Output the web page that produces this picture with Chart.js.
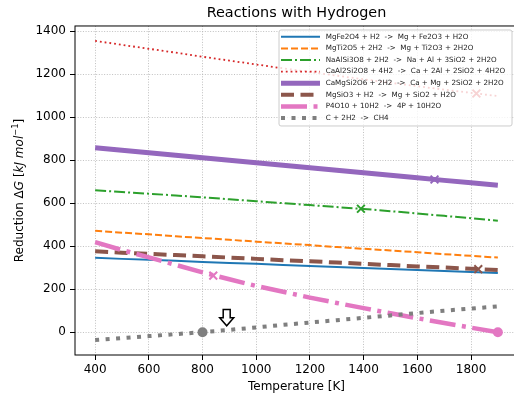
<!DOCTYPE html>
<html>
<head>
<meta charset="utf-8">
<title>Reactions with Hydrogen</title>
<script src="https://cdn.jsdelivr.net/npm/chart.js@4"></script>
<style>
    html, body { margin: 0; padding: 0; background: #fff; overflow: hidden; }
    #wrap { position: relative; width: 530px; height: 400px; }
</style>
</head>
<body>
<div id="wrap"><canvas id="chart"></canvas></div>
<script>
// Temperatures the curves are sampled at [K]
const temps = [400, 500, 600, 700, 800, 900, 1000, 1100, 1200, 1300, 1400, 1500, 1600, 1700, 1800, 1900];

const labels = [
    'MgFe2O4 + H2  ->  Mg + Fe2O3 + H2O',
    'MgTi2O5 + 2H2  ->  Mg + Ti2O3 + 2H2O',
    'NaAlSi3O8 + 2H2  ->  Na + Al + 3SiO2 + 2H2O',
    'CaAl2Si2O8 + 4H2  ->  Ca + 2Al + 2SiO2 + 4H2O',
    'CaMgSi2O6 + 2H2  ->  Ca + Mg + 2SiO2 + 2H2O',
    'MgSiO3 + H2  ->  Mg + SiO2 + H2O',
    'P4O10 + 10H2  ->  4P + 10H2O',
    'C + 2H2  ->  CH4'
];

// Reduction dG [kJ/mol], one value per temperature
const mgFe2O4   = [346, 341, 337, 332, 327, 322, 318, 313, 308, 303, 299, 294, 289, 285, 280, 275];
const mgTi2O5   = [472, 463, 455, 446, 438, 430, 421, 413, 405, 396, 388, 380, 372, 363, 355, 347];
const naAlSi3O8 = [660, 652, 644, 636, 627, 618, 609, 600, 591, 582, 573, 563, 552, 541, 530, 518];
const caAl2Si2O8 = [1355, 1336, 1318, 1300, 1281, 1263, 1245, 1227, 1210, 1193, 1176, 1160, 1144, 1128, 1113, 1098];
const caMgSi2O6 = [858, 846, 835, 823, 811, 800, 788, 776, 765, 753, 741, 730, 718, 706, 695, 683];
const mgSiO3    = [376, 370, 364, 359, 353, 347, 341, 335, 330, 324, 318, 312, 306, 301, 295, 289];
const p4O10     = [419, 382, 348, 313, 278, 246, 215, 188, 161, 136, 112, 88, 65, 43, 21, 0];
const cH4       = [-36, -27, -18, -9, 0, 11, 22, 34, 45, 56, 67, 78, 89, 100, 110, 120];
const series = [mgFe2O4, mgTi2O5, naAlSi3O8, caAl2Si2O8, caMgSi2O6, mgSiO3, p4O10, cH4];

// Marked points: crosses and circles, with the series each belongs to
const crossTemps  = [1820, 1664, 1390, 840, 1827];
const crossValues = [1110, 710, 574, 263, 293];
const crossSeries = [3, 4, 2, 6, 5];
const circleTemps  = [800, 1900];
const circleValues = [0, 0];
const circleSeries = [7, 6];

// Hollow arrow pointing down at the zero line
const arrowTemp = 890;
const arrowFrom = 106;
const arrowTo = 30;

const xTicks = [400, 600, 800, 1000, 1200, 1400, 1600, 1800];
const yTicks = [0, 200, 400, 600, 800, 1000, 1200, 1400];

// Line styles per series
const styles = [
    { color: '#1f77b4', width: 2,   dash: [] },
    { color: '#ff7f0e', width: 2,   dash: [7, 3] },
    { color: '#2ca02c', width: 2,   dash: [11, 3, 2, 3] },
    { color: '#d62728', width: 1.8, dash: [1.8, 3] },
    { color: '#9467bd', width: 5,   dash: [] },
    { color: '#8c564b', width: 4,   dash: [13, 6.5] },
    { color: '#e377c2', width: 4.5, dash: [26, 6.5, 4, 6.5] },
    { color: '#7f7f7f', width: 4,   dash: [4, 6.5] }
];

const FONT = '"DejaVu Sans", sans-serif';
Chart.defaults.font.family = FONT;
Chart.defaults.color = '#000';

// Datasets
const datasets = [];
series.forEach((vals, i) => {
    datasets.push({
        type: 'line',
        label: labels[i],
        data: temps.map((t, j) => ({ x: t, y: vals[j] })),
        borderColor: styles[i].color,
        borderWidth: styles[i].width,
        borderDash: styles[i].dash,
        borderCapStyle: 'butt',
        pointRadius: 0,
        fill: false,
        tension: 0,
        order: 20 - i
    });
});
crossTemps.forEach((t, i) => {
    const c = styles[crossSeries[i]].color;
    datasets.push({
        type: 'line',
        showLine: false,
        data: [{ x: t, y: crossValues[i] }],
        pointStyle: 'crossRot',
        pointRadius: 5.5,
        pointBorderWidth: 2,
        pointBorderColor: c,
        pointBackgroundColor: c,
        order: 2
    });
});
circleTemps.forEach((t, i) => {
    const c = styles[circleSeries[i]].color;
    datasets.push({
        type: 'line',
        showLine: false,
        data: [{ x: t, y: circleValues[i] }],
        pointStyle: 'circle',
        pointRadius: 5,
        pointBorderWidth: 0,
        pointBackgroundColor: c,
        order: 1
    });
});

// Frame, arrow, legend box and y-axis label
const extras = {
    id: 'extras',
    afterDatasetsDraw(chart) {
        const { ctx, chartArea: a, scales } = chart;
        ctx.save();

        // Arrow
        const ax = scales.x.getPixelForValue(arrowTemp);
        const y0 = scales.y.getPixelForValue(arrowFrom);
        const y1 = scales.y.getPixelForValue(arrowTo);
        const hy = y1 - 8;
        ctx.beginPath();
        ctx.moveTo(ax - 3.5, y0);
        ctx.lineTo(ax + 3.5, y0);
        ctx.lineTo(ax + 3.5, hy);
        ctx.lineTo(ax + 7, hy);
        ctx.lineTo(ax, y1);
        ctx.lineTo(ax - 7, hy);
        ctx.lineTo(ax - 3.5, hy);
        ctx.closePath();
        ctx.fillStyle = '#fff';
        ctx.fill();
        ctx.lineWidth = 1.5;
        ctx.strokeStyle = '#000';
        ctx.stroke();

        // Frame
        ctx.lineWidth = 1;
        ctx.strokeStyle = '#000';
        ctx.strokeRect(a.left, a.top, a.right - a.left, a.bottom - a.top);

        // Legend
        const w = 233, h = 96;
        const right = a.right - 6, top = a.top + 4;
        const left = right - w;
        ctx.beginPath();
        ctx.roundRect(left, top, w, h, 2);
        ctx.fillStyle = 'rgba(255,255,255,0.8)';
        ctx.fill();
        ctx.strokeStyle = '#cccccc';
        ctx.lineWidth = 1;
        ctx.stroke();
        ctx.font = '7.2px ' + FONT;
        ctx.textBaseline = 'middle';
        labels.forEach((txt, i) => {
            const y = top + 6.8 + i * 11.6;
            const st = styles[i];
            ctx.beginPath();
            ctx.setLineDash(st.dash);
            ctx.lineWidth = st.width;
            ctx.strokeStyle = st.color;
            ctx.lineCap = 'butt';
            ctx.moveTo(left + 2, y);
            ctx.lineTo(left + 41, y);
            ctx.stroke();
            ctx.setLineDash([]);
            ctx.fillStyle = '#222';
            ctx.fillText(txt, left + 46.7, y);
        });

        // Y label with italic and superscript parts
        const parts = [
            { t: 'Reduction ', f: '12px ' + FONT },
            { t: '\u0394', f: '12px ' + FONT },
            { t: 'G', f: 'italic 12px ' + FONT },
            { t: ' [', f: '12px ' + FONT },
            { t: 'kJ mol', f: 'italic 12px ' + FONT },
            { t: '\u22121', f: '8.4px ' + FONT, dy: -4.5 },
            { t: ']', f: '12px ' + FONT }
        ];
        let total = 0;
        parts.forEach(p => { ctx.font = p.f; p.w = ctx.measureText(p.t).width; total += p.w; });
        ctx.translate(22.5, (a.top + a.bottom) / 2);
        ctx.rotate(-Math.PI / 2);
        ctx.textBaseline = 'alphabetic';
        ctx.fillStyle = '#000';
        let cx = -total / 2;
        parts.forEach(p => {
            ctx.font = p.f;
            ctx.fillText(p.t, cx, p.dy || 0);
            cx += p.w;
        });
        ctx.restore();
    }
};

const tickFont = { size: 12, family: FONT };
const plainTick = v => String(v);

new Chart(document.getElementById('chart'), {
    type: 'line',
    data: { datasets },
    options: {
        responsive: true,
        maintainAspectRatio: false,
        animation: false,
        layout: { padding: { left: 0, right: 12, top: 0, bottom: 0 } },
        plugins: {
            legend: { display: false },
            tooltip: { enabled: false },
            title: {
                display: true,
                text: 'Reactions with Hydrogen',
                fullSize: false,
                color: '#000',
                font: { size: 14.4, weight: 'normal', family: FONT },
                padding: { top: 5, bottom: 3.7 }
            }
        },
        scales: {
            x: {
                type: 'linear',
                min: 325,
                max: 1975,
                afterBuildTicks: s => { s.ticks = xTicks.map(v => ({ value: v })); },
                afterFit: s => { s.height = 45; },
                ticks: { font: tickFont, color: '#000', padding: 3, maxRotation: 0, autoSkip: false, callback: plainTick },
                grid: { color: '#b0b0b0', lineWidth: 0.8, tickColor: '#000', tickLength: 5, tickWidth: 1, tickBorderDash: [] },
                border: { display: false, dash: [1, 1.65] },
                title: {
                    display: true,
                    text: 'Temperature [K]',
                    color: '#000',
                    font: { size: 12, family: FONT },
                    padding: { top: 0, bottom: 6 }
                }
            },
            y: {
                type: 'linear',
                min: -106,
                max: 1424,
                afterBuildTicks: s => { s.ticks = yTicks.map(v => ({ value: v })); },
                afterFit: s => { s.width = 75; },
                ticks: { font: tickFont, color: '#000', padding: 4, callback: plainTick },
                grid: { color: '#b0b0b0', lineWidth: 0.8, tickColor: '#000', tickLength: 5, tickWidth: 1, tickBorderDash: [] },
                border: { display: false, dash: [1, 1.65] }
            }
        }
    },
    plugins: [extras]
});
</script>
</body>
</html>
